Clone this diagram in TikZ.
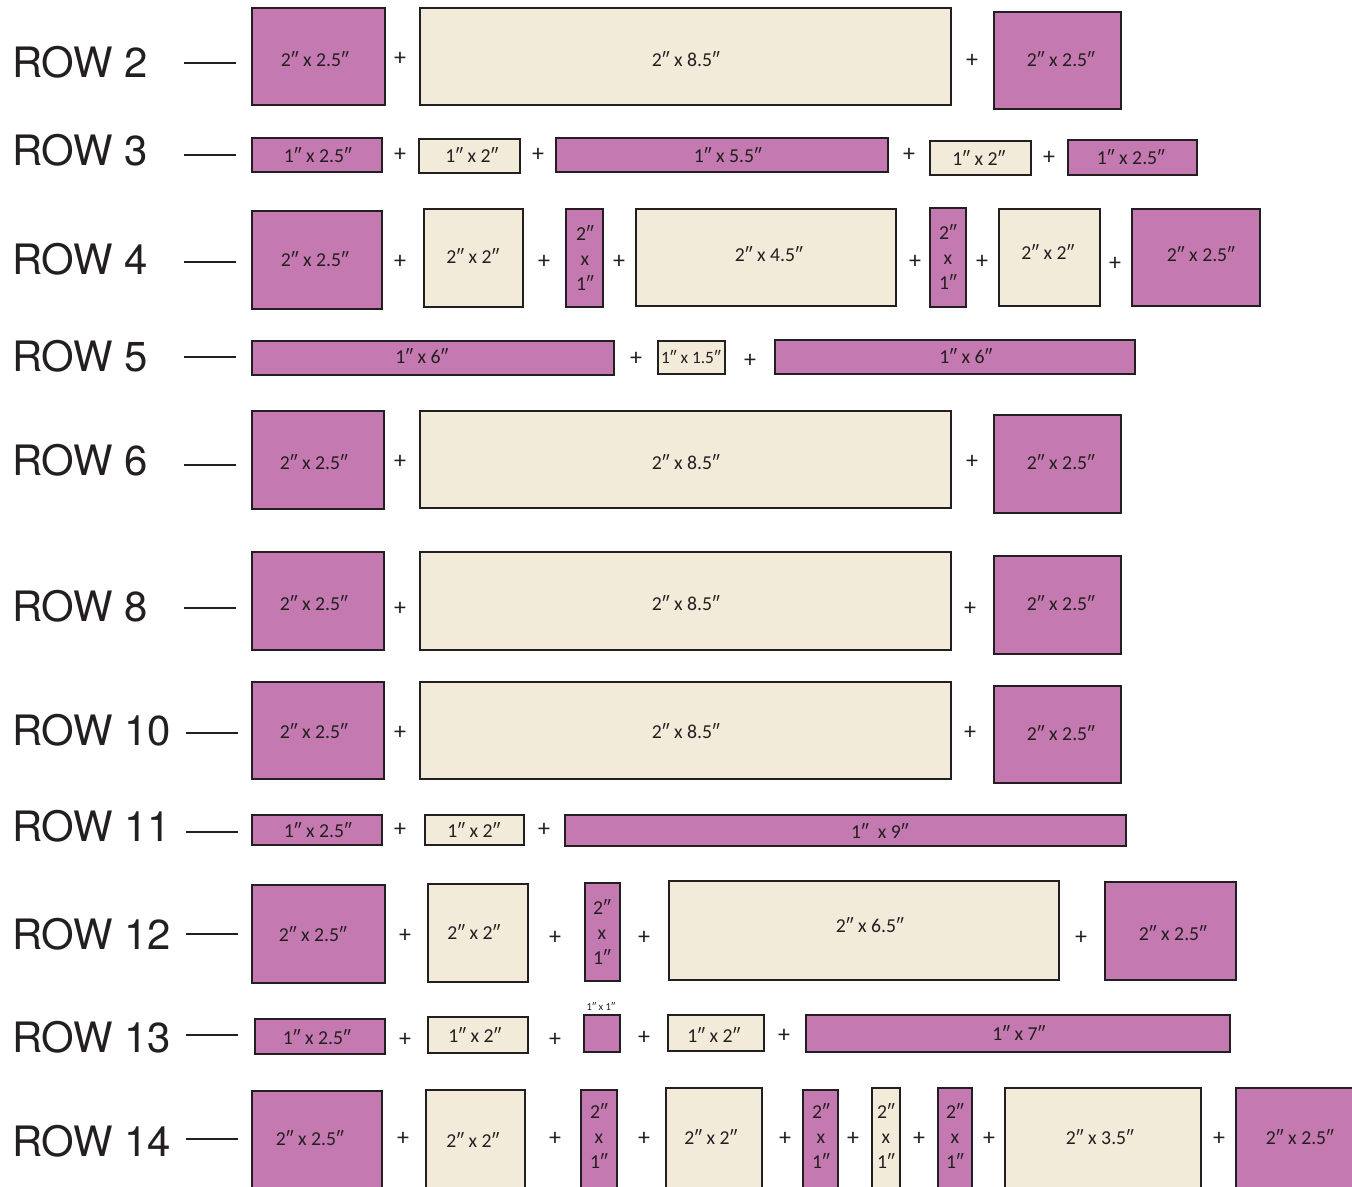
\documentclass[tikz,border=0pt]{standalone}
\usepackage{fontspec}
\setmainfont{Carlito}
\newfontfamily\rowfont{TeX Gyre Heros}
\definecolor{qpink}{RGB}{196,121,176}
\definecolor{qcream}{RGB}{243,235,218}
\definecolor{qink}{RGB}{35,31,32}
\tikzset{
 piece/.style={draw=qink, line width=2.2pt, inner sep=0pt, outer sep=0pt},
 plab/.style={inner sep=0pt, font=\fontsize{14.8}{18.75}\selectfont, text=qink, align=center},
 plus/.style={inner sep=0pt, font=\fontsize{18}{20}\selectfont, text=qink},
 rowlab/.style={anchor=base west, inner sep=0pt, font=\rowfont\fontsize{31.4}{36}\selectfont, text=qink},
 rowdash/.style={draw=qink, line width=2pt},
}
% name, x1, y1, x2, y2, fill, label x, label y, text
\newcommand\qpiece[9]{%
 \pgfmathsetmacro\qw{(#4-#2)*0.75}%
 \pgfmathsetmacro\qh{(#5-#3)*0.75}%
 \node[piece, fill=#6, minimum width=\qw pt, minimum height=\qh pt] (#1) at ({(#2+#4)/2},{(#3+#5)/2}) {};%
 \node[plab] (#1t) at (#7,#8) {#9};%
}
\newcommand\qplus[3]{\node[plus] (#1) at (#2,#3) {+};}
% name, number, baseline y, dash y, dash x1, dash x2
\newcommand\qrow[6]{%
 \node[rowlab] (#1) at (12,#3) {ROW #2};%
 \coordinate (#1a) at (#5,#4);\coordinate (#1b) at (#6,#4);%
 \draw[rowdash] (#1a) -- (#1b);%
}
\newcommand\stk{2″\\x\\1″}
\begin{document}
\begin{tikzpicture}[x=0.75pt,y=-0.75pt]
\path[use as bounding box, fill=white] (0,0) rectangle (1352,1187);
\clip (0,0) rectangle (1352,1187);

% ROW 2
\qrow{r2}{2}{78}{63}{184}{236}
\qpiece{r2a}{252}{8}{385}{105}{qpink}{315}{59}{2″ x 2.5″}
\qplus{r2p1}{400}{59}
\qpiece{r2b}{420}{8}{951}{105}{qcream}{686}{59}{2″ x 8.5″}
\qplus{r2p2}{972}{61}
\qpiece{r2c}{994}{12}{1121}{109}{qpink}{1061}{59}{2″ x 2.5″}

% ROW 3
\qrow{r3}{3}{166}{155}{184}{236}
\qpiece{r3a}{252}{138}{382}{172}{qpink}{318}{155}{1″ x 2.5″}
\qplus{r3p1}{400}{155}
\qpiece{r3b}{419}{139}{520}{173}{qcream}{472}{155}{1″ x 2″}
\qplus{r3p2}{538}{155}
\qpiece{r3c}{556}{138}{888}{172}{qpink}{728}{155}{1″ x 5.5″}
\qplus{r3p3}{909}{155}
\qpiece{r3d}{930}{141}{1031}{175}{qcream}{979}{158}{1″ x 2″}
\qplus{r3p4}{1049}{158}
\qpiece{r3e}{1068}{140}{1197}{175}{qpink}{1131}{157}{1″ x 2.5″}

% ROW 4
\qrow{r4}{4}{275}{262}{184}{236}
\qpiece{r4a}{252}{211}{382}{309}{qpink}{315}{259}{2″ x 2.5″}
\qplus{r4p1}{400}{262}
\qpiece{r4b}{424}{209}{523}{307}{qcream}{473}{256}{2″ x 2″}
\qplus{r4p2}{544}{262}
\qpiece{r4c}{566}{209}{603}{307}{qpink}{585}{258}{\stk}
\qplus{r4p3}{619}{262}
\qpiece{r4d}{636}{209}{896}{306}{qcream}{769}{254}{2″ x 4.5″}
\qplus{r4p4}{915}{262}
\qpiece{r4e}{930}{208}{966}{307}{qpink}{948}{257}{\stk}
\qplus{r4p5}{982}{262}
\qpiece{r4f}{999}{209}{1100}{306}{qcream}{1048}{252}{2″ x 2″}
\qplus{r4p6}{1115}{264}
\qpiece{r4g}{1132}{209}{1260}{306}{qpink}{1201}{254}{2″ x 2.5″}

% ROW 5
\qrow{r5}{5}{372}{357}{184}{236}
\qpiece{r5a}{252}{341}{614}{375}{qpink}{422}{356}{1″ x 6″}
\qplus{r5p1}{636}{359}
\qpiece{r5b}{658}{341}{725}{374}{qcream}{691}{357}{\fontsize{13}{15}\selectfont 1″ x 1.5″}
\qplus{r5p2}{750}{361}
\qpiece{r5c}{775}{340}{1135}{374}{qpink}{966}{356}{1″ x 6″}

% ROW 6
\qrow{r6}{6}{475}{465}{184}{236}
\qpiece{r6a}{252}{411}{384}{509}{qpink}{314}{462}{2″ x 2.5″}
\qplus{r6p1}{400}{462}
\qpiece{r6b}{420}{411}{951}{508}{qcream}{686}{462}{2″ x 8.5″}
\qplus{r6p2}{972}{462}
\qpiece{r6c}{994}{415}{1121}{513}{qpink}{1061}{462}{2″ x 2.5″}

% ROW 8
\qrow{r8}{8}{621}{608}{184}{236}
\qpiece{r8a}{252}{552}{384}{650}{qpink}{314}{603}{2″ x 2.5″}
\qplus{r8p1}{400}{609}
\qpiece{r8b}{420}{552}{951}{650}{qcream}{686}{603}{2″ x 8.5″}
\qplus{r8p2}{970}{609}
\qpiece{r8c}{994}{556}{1121}{654}{qpink}{1061}{603}{2″ x 2.5″}

% ROW 10
\qrow{r10}{10}{745}{733}{186}{238}
\qpiece{r10a}{252}{682}{384}{779}{qpink}{314}{731}{2″ x 2.5″}
\qplus{r10p1}{400}{733}
\qpiece{r10b}{420}{682}{951}{779}{qcream}{686}{731}{2″ x 8.5″}
\qplus{r10p2}{970}{733}
\qpiece{r10c}{994}{686}{1121}{783}{qpink}{1061}{733}{2″ x 2.5″}

% ROW 11
\qrow{r11}{11}{841}{832}{186}{238}
\qpiece{r11a}{252}{815}{382}{845}{qpink}{318}{830}{1″ x 2.5″}
\qplus{r11p1}{400}{830}
\qpiece{r11b}{425}{815}{524}{845}{qcream}{474}{830}{1″ x 2″}
\qplus{r11p2}{544}{830}
\qpiece{r11c}{565}{815}{1126}{846}{qpink}{880}{831}{1″\ \ x 9″}

% ROW 12
\qrow{r12}{12}{949}{934}{186}{238}
\qpiece{r12a}{252}{885}{385}{983}{qpink}{313}{934}{2″ x 2.5″}
\qplus{r12p1}{405}{936}
\qpiece{r12b}{428}{884}{528}{982}{qcream}{474}{932}{2″ x 2″}
\qplus{r12p2}{555}{938}
\qpiece{r12c}{585}{883}{620}{981}{qpink}{602}{932}{\stk}
\qplus{r12p3}{644}{938}
\qpiece{r12d}{669}{881}{1059}{980}{qcream}{870}{925}{2″ x 6.5″}
\qplus{r12p4}{1081}{938}
\qpiece{r12e}{1105}{882}{1236}{980}{qpink}{1173}{933}{2″ x 2.5″}

% ROW 13
\qrow{r13}{13}{1052}{1035}{186}{238}
\qpiece{r13a}{255}{1019}{385}{1054}{qpink}{317}{1037}{1″ x 2.5″}
\qplus{r13p1}{405}{1040}
\qpiece{r13b}{428}{1017}{528}{1053}{qcream}{475}{1035}{1″ x 2″}
\qplus{r13p2}{555}{1040}
\qpiece{r13c}{584}{1015}{620}{1052}{qpink}{602}{1033}{}
\node[plab, font=\fontsize{8}{9}\selectfont] (r13cap) at (601,1006) {1″ x 1″};
\qplus{r13p3}{644}{1038}
\qpiece{r13d}{668}{1015}{764}{1051}{qcream}{714}{1035}{1″ x 2″}
\qplus{r13p4}{784}{1036}
\qpiece{r13e}{806}{1015}{1230}{1052}{qpink}{1019}{1033}{1″ x 7″}

% ROW 14
\qrow{r14}{14}{1156}{1139}{186}{238}
\qpiece{r14a}{252}{1091}{382}{1200}{qpink}{310}{1138}{2″ x 2.5″}
\qplus{r14p1}{403}{1139}
\qpiece{r14b}{426}{1090}{525}{1200}{qcream}{473}{1140}{2″ x 2″}
\qplus{r14p2}{555}{1139}
\qpiece{r14c}{581}{1090}{617}{1200}{qpink}{599}{1136}{\stk}
\qplus{r14p3}{644}{1139}
\qpiece{r14d}{666}{1088}{762}{1200}{qcream}{711}{1137}{2″ x 2″}
\qplus{r14p4}{785}{1139}
\qpiece{r14e}{803}{1090}{838}{1200}{qpink}{821}{1136}{\stk}
\qplus{r14p5}{853}{1139}
\qpiece{r14f}{872}{1088}{900}{1200}{qcream}{886}{1136}{\stk}
\qplus{r14p6}{919}{1139}
\qpiece{r14g}{938}{1088}{972}{1200}{qpink}{955}{1136}{\stk}
\qplus{r14p7}{989}{1139}
\qpiece{r14h}{1005}{1088}{1201}{1200}{qcream}{1100}{1137}{2″ x 3.5″}
\qplus{r14p8}{1219}{1139}
\qpiece{r14i}{1236}{1088}{1364}{1200}{qpink}{1300}{1137}{2″ x 2.5″}
\end{tikzpicture}
\end{document}
